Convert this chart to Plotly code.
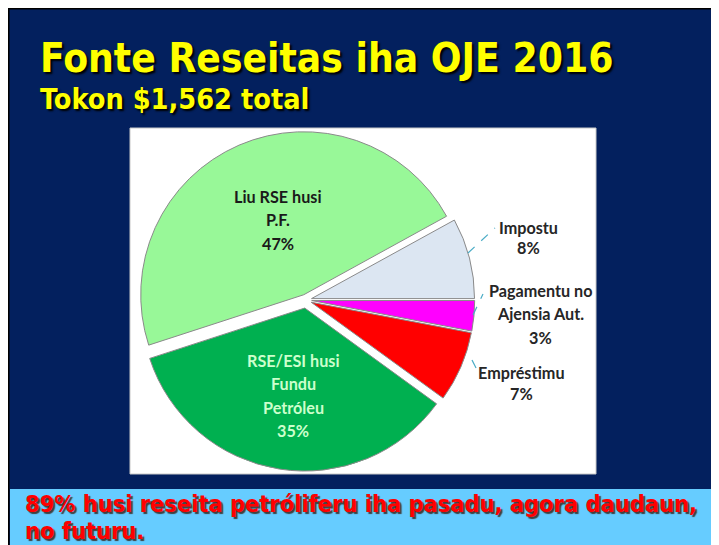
import plotly.graph_objects as go

# ---- data ----
labels = ["Impostu", "Pagamentu no\nAjensia Aut.", "Empréstimu",
          "RSE/ESI husi\nFundu\nPetróleu", "Liu RSE husi\nP.F."]
values = [8, 3, 7, 35, 47]
colors = ["#DCE6F2", "#FF00FF", "#FF0000", "#00B050", "#98F898"]
pulls = [0.035, 0.035, 0.035, 0.05, 0.035]

title = "Fonte Reseitas iha OJE 2016"
subtitle = "Tokon $1,562 total"
footer = ["89% husi reseita petróliferu iha pasadu, agora daudaun,", "no futuru."]

# page body has an 8px margin; figure fits the rest of the window
OX, OY = 8, 8
W, H = 719 - OX, 545 - OY
NAVY = "#03205E"


def px(x):
    return (x - OX) / W


def py(y):
    return 1 - (y - OY) / H


fig = go.Figure()

# pie geometry (window-pixel centre / radius)
cx, cy, r = 306, 300, 163
half = r * (1 + max(pulls))

fig.add_trace(go.Pie(
    labels=[l.replace("\n", " ") for l in labels],
    values=values,
    sort=False,
    direction="clockwise",
    rotation=61.2,
    pull=pulls,
    marker=dict(colors=colors, line=dict(color="#8A8A8A", width=1)),
    textinfo="none",
    hoverinfo="label+percent",
    showlegend=False,
    domain=dict(x=[px(cx - half), px(cx + half)], y=[py(cy + half), py(cy - half)]),
))

shapes = []
# navy slide with black edge
shapes.append(dict(type="rect", xref="paper", yref="paper", x0=0, x1=1.02, y0=-0.02, y1=1,
                   fillcolor=NAVY, line=dict(color="black", width=3), layer="below"))
# white chart box
shapes.append(dict(type="rect", xref="paper", yref="paper", x0=px(130), x1=px(596), y0=py(474), y1=py(128),
                   fillcolor="white", line=dict(color="#C8C8C8", width=1), layer="below"))
# light blue band
shapes.append(dict(type="rect", xref="paper", yref="paper", x0=px(10), x1=1.01, y0=-0.01, y1=py(489),
                   fillcolor="#66CCFF", line=dict(width=0), layer="below"))

# leader lines (dashed) for the small slices
leaders = [((468, 253), (495, 228)), ((473, 315), (483, 294)), ((472, 360), (478, 372))]
for (x0, y0), (x1, y1) in leaders:
    shapes.append(dict(type="line", xref="paper", yref="paper", x0=px(x0), y0=py(y0), x1=px(x1), y1=py(y1),
                       line=dict(color="#4BACC6", width=1.2, dash="dash")))

annotations = []
HEAD_FONT = "DejaVu Sans Condensed, DejaVu Sans"
# title & subtitle
annotations.append(dict(text=f"<b>{title}</b>", x=px(38), y=py(58), xref="paper", yref="paper",
                        xanchor="left", yanchor="middle", showarrow=False,
                        font=dict(family=HEAD_FONT, size=40.3, color="#FFFF00",
                                  shadow="2px 2px 2px #000000")))
annotations.append(dict(text=f"<b>{subtitle}</b>", x=px(38), y=py(99), xref="paper", yref="paper",
                        xanchor="left", yanchor="middle", showarrow=False,
                        font=dict(family=HEAD_FONT, size=28.6, color="#FFFF00",
                                  shadow="2px 2px 2px #000000")))
# footer
for i, line in enumerate(footer):
    annotations.append(dict(text=f"<b>{line}</b>", x=px(23), y=py(504 + 27 * i), xref="paper", yref="paper",
                            xanchor="left", yanchor="middle", showarrow=False,
                            font=dict(family=HEAD_FONT, size=23.4, color="#FF0000",
                                      shadow="2px 2px 1px #404040")))

# slice labels (label lines + percentage)
label_pos = [(528, 227), (540, 290), (521, 372), (293, 360), (278, 196)]
label_col = ["#262626", "#262626", "#262626", "#CCFFCC", "#1A1A1A"]
for lab, v, (lx, ly), col in zip(labels, values, label_pos, label_col):
    lines = lab.split("\n") + [f"{v}%"]
    step = 23.5 if len(lines) > 2 else 21
    for j, t in enumerate(lines):
        annotations.append(dict(text=f"<b>{t}</b>", x=px(lx), y=py(ly + step * j), xref="paper", yref="paper",
                                xanchor="center", yanchor="middle", showarrow=False,
                                font=dict(family="Lato", size=16.2, color=col)))

fig.update_layout(
    width=W, height=H,
    margin=dict(l=0, r=0, t=0, b=0),
    paper_bgcolor=NAVY,
    plot_bgcolor=NAVY,
    shapes=shapes,
    annotations=annotations,
)

fig.write_html("out.html")
